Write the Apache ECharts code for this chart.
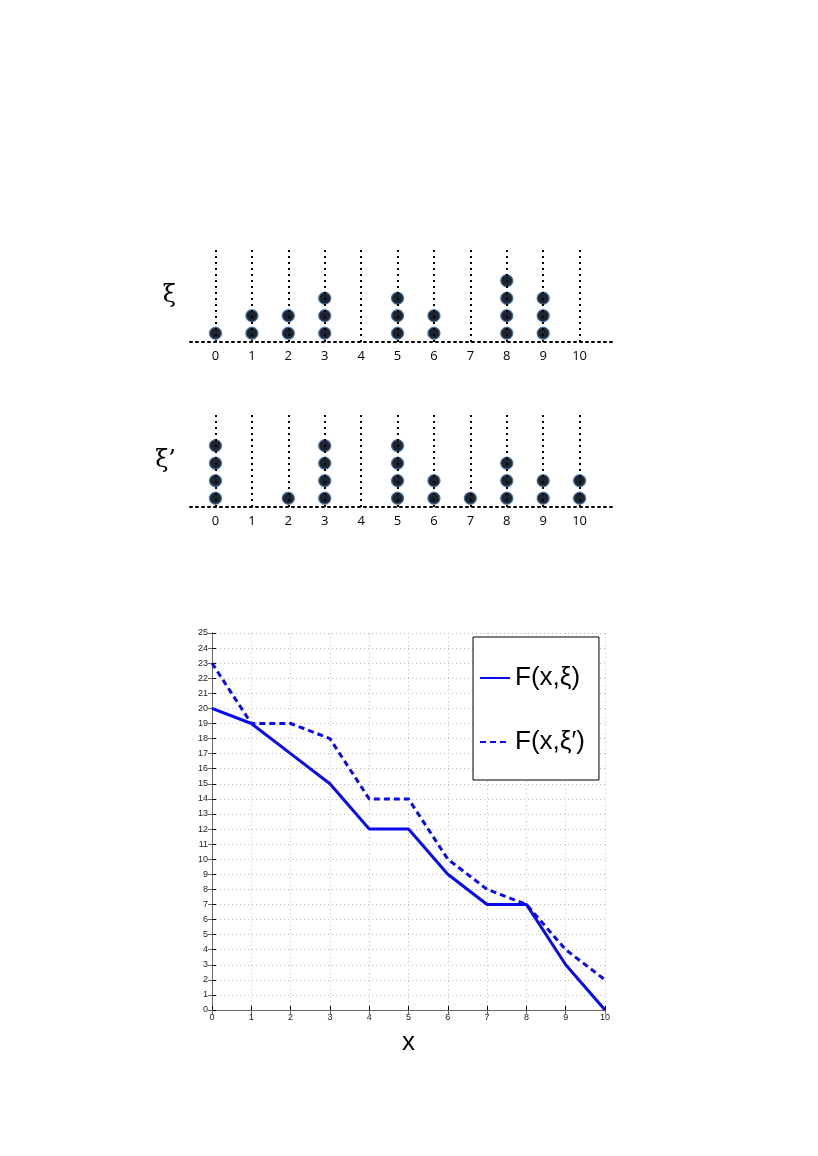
<!DOCTYPE html>
<html>
<head>
<meta charset="utf-8">
<title>F(x,ξ)</title>
<script src="https://cdn.jsdelivr.net/npm/echarts@6/dist/echarts.min.js"></script>
<style>
	html,body{margin:0;padding:0;background:#fff;}
	#chart{width:818px;height:1156px;}
</style>
</head>
<body>
<div id="chart"></div>
<script>
// positions 0..10
var xValues = [0, 1, 2, 3, 4, 5, 6, 7, 8, 9, 10];
// number of dots stacked at each position
var xiCounts = [1, 2, 2, 3, 0, 3, 2, 0, 4, 3, 0];
var xiPrimeCounts = [4, 0, 1, 4, 0, 4, 2, 1, 3, 2, 2];
// F(x, .)
var fXi = [20, 19, 17, 15, 12, 12, 9, 7, 7, 3, 0];
var fXiPrime = [23, 19, 19, 18, 14, 14, 10, 8, 7, 4, 2];
var seriesNames = ['F(x,ξ)', 'F(x,ξ′)'];

var Chart = {
	init:function(){
		Chart.initEchart();
	},

	dots:function(counts){
		var out = [];
		for (var i = 0; i < xValues.length; i++) {
			for (var k = 1; k <= counts[i]; k++) {
				out.push([xValues[i], k - 0.5]);
			}
		}
		return out;
	},

	dotAxisX:function(grid){
		return {
			gridIndex: grid, type: 'value', min: -0.7, max: 11,
			axisLine: {onZero: false, lineStyle: {color: '#000', width: 2, type: [2, 4]}},
			axisTick: {show: false},
			splitLine: {show: false},
			axisLabel: {customValues: xValues, color: '#000', fontSize: 13, margin: 8,
				fontFamily: 'Open Sans'}
		};
	},

	dotAxisY:function(grid, name){
		return {
			gridIndex: grid, type: 'value', min: 0, max: 5.25,
			axisLine: {show: false}, axisTick: {show: false},
			axisLabel: {show: false}, splitLine: {show: false},
			name: name, nameLocation: 'middle', nameRotate: 0, nameGap: 14,
			nameTextStyle: {fontSize: 24, color: '#000', fontFamily: 'DejaVu Serif'}
		};
	},

	dotSeries:function(idx, counts){
		return {
			type: 'scatter', xAxisIndex: idx, yAxisIndex: idx,
			data: Chart.dots(counts),
			symbolSize: 12,
			itemStyle: {color: '#000', borderColor: '#35618f', borderWidth: 1,
				shadowBlur: 1, shadowColor: '#6f9fd6'},
			markLine: {
				silent: true, symbol: ['none', 'none'], label: {show: false},
				lineStyle: {color: '#000', width: 2, type: [2, 4]},
				data: xValues.map(function(v){ return {xAxis: v}; })
			},
			z: 3
		};
	},

	initEchart:function(){
		var myChart = echarts.init(document.getElementById('chart'));
		var font = 'Liberation Sans';
		var option = {
			animation: false,
			backgroundColor: '#fff',
			grid: [
				{left: 190, top: 250, width: 426, height: 92},
				{left: 190, top: 415, width: 426, height: 92},
				{left: 212, top: 633, right: 213, bottom: 146}
			],
			legend: {
				data: seriesNames,
				orient: 'vertical',
				left: 473, top: 637,
				padding: [27, 14, 24, 6],
				itemWidth: 30, itemHeight: 14, itemGap: 36,
				backgroundColor: '#fff', borderColor: '#000', borderWidth: 1,
				itemStyle: {opacity: 0},
				textStyle: {fontSize: 26, color: '#000', fontFamily: font, lineHeight: 28},
				z: 10
			},
			xAxis: [
				Chart.dotAxisX(0),
				Chart.dotAxisX(1),
				{
					gridIndex: 2, type: 'value', min: 0, max: 10, interval: 1,
					axisLine: {lineStyle: {color: '#000', width: 1}},
					axisTick: {inside: true, length: 4, lineStyle: {color: '#000'}},
					axisLabel: {fontSize: 9, color: '#222', margin: 3, fontFamily: font},
					splitLine: {show: true, lineStyle: {color: '#bbb', type: [1, 3]}},
					name: 'x', nameLocation: 'middle', nameGap: 20,
					nameTextStyle: {fontSize: 26, color: '#000', fontFamily: font}
				},
				{
					gridIndex: 2, type: 'value', min: 0, max: 10, interval: 1, position: 'top',
					axisLine: {lineStyle: {color: '#666', width: 1}},
					axisTick: {inside: true, length: 4, lineStyle: {color: '#666'}},
					axisLabel: {show: false}, splitLine: {show: false}
				}
			],
			yAxis: [
				Chart.dotAxisY(0, 'ξ'),
				Chart.dotAxisY(1, 'ξ’'),
				{
					gridIndex: 2, type: 'value', min: 0, max: 25, interval: 1,
					axisLine: {show: true, lineStyle: {color: '#000', width: 1}},
					axisTick: {show: true, inside: true, length: 4, lineStyle: {color: '#000'}},
					axisLabel: {fontSize: 9, color: '#222', margin: 4, fontFamily: font},
					splitLine: {show: true, lineStyle: {color: '#bbb', type: [1, 3]}}
				},
				{
					gridIndex: 2, type: 'value', min: 0, max: 25, interval: 1, position: 'right',
					axisLine: {show: true, lineStyle: {color: '#666', width: 1}},
					axisTick: {show: true, inside: true, length: 4, lineStyle: {color: '#666'}},
					axisLabel: {show: false}, splitLine: {show: false}
				}
			],
			series: [
				Chart.dotSeries(0, xiCounts),
				Chart.dotSeries(1, xiPrimeCounts),
				{
					name: seriesNames[0], type: 'line', xAxisIndex: 2, yAxisIndex: 2,
					data: xValues.map(function(x, i){ return [x, fXi[i]]; }),
					symbol: 'none',
					lineStyle: {color: '#0a0af0', width: 3},
					itemStyle: {color: '#0a0af0'},
					z: 4
				},
				{
					name: seriesNames[1], type: 'line', xAxisIndex: 2, yAxisIndex: 2,
					data: xValues.map(function(x, i){ return [x, fXiPrime[i]]; }),
					symbol: 'none',
					lineStyle: {color: '#0a0af0', width: 3, type: [6, 4]},
					itemStyle: {color: '#0a0af0'},
					z: 4
				}
			]
		};
		window.addEventListener("resize", function () {
			myChart.resize();
		});
		myChart.setOption(option, true);
	}
};

Chart.init();
</script>
</body>
</html>
